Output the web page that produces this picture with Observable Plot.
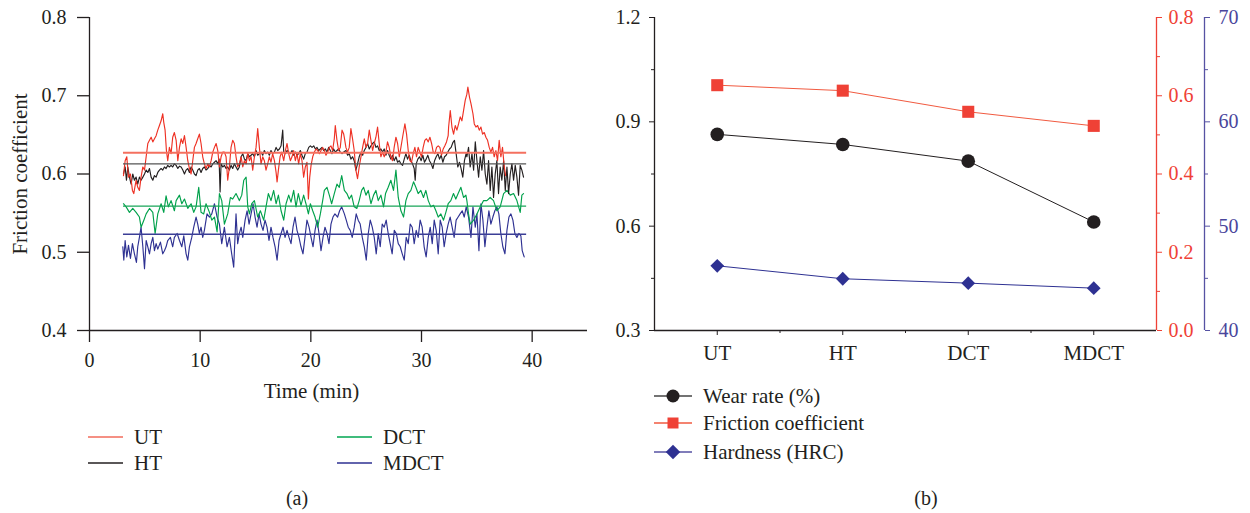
<!DOCTYPE html>
<html><head><meta charset="utf-8">
<script src="https://cdn.jsdelivr.net/npm/d3@7"></script>
<script src="https://cdn.jsdelivr.net/npm/@observablehq/plot@0.6"></script>
<style>
body{margin:0;background:#fff;width:1250px;height:513px;position:relative;overflow:hidden;font-family:"Liberation Serif",serif;color:#231f20}
.abs{position:absolute}
svg{overflow:visible}
</style></head><body>
<div id="a" class="abs" style="left:0;top:0"></div>
<div id="b" class="abs" style="left:600px;top:0"></div>
<svg id="leg" class="abs" style="left:0;top:0" width="1250" height="513"></svg>
<script>
// ---------- Panel (a): friction coefficient vs time ----------
const seriesNames = ["UT", "HT", "DCT", "MDCT"];
const xTicksA = [0, 10, 20, 30, 40];
const yTicksA = [0.4, 0.5, 0.6, 0.7, 0.8];
const meanSpan = [3.07, 39.5];
const frictionMean = [0.627, 0.613, 0.559, 0.523];

const UT = [[3.07,0.598],[3.22,0.617],[3.37,0.622],[3.52,0.596],[3.70,0.600],[3.88,0.579],[4.00,0.575],[4.21,0.592],[4.36,0.583],[4.51,0.579],[4.66,0.596],[4.82,0.609],[4.97,0.605],[5.12,0.622],[5.27,0.639],[5.42,0.643],[5.57,0.647],[5.72,0.641],[5.87,0.645],[6.02,0.649],[6.17,0.656],[6.32,0.662],[6.47,0.668],[6.62,0.677],[6.71,0.666],[6.83,0.656],[6.95,0.630],[7.07,0.617],[7.22,0.634],[7.37,0.626],[7.52,0.647],[7.67,0.653],[7.83,0.643],[7.98,0.617],[8.13,0.634],[8.28,0.645],[8.43,0.639],[8.58,0.649],[8.73,0.634],[8.88,0.617],[9.03,0.607],[9.18,0.600],[9.33,0.617],[9.48,0.634],[9.63,0.639],[9.78,0.645],[9.93,0.651],[10.08,0.639],[10.23,0.622],[10.38,0.613],[10.53,0.607],[10.69,0.613],[10.84,0.609],[10.99,0.617],[11.14,0.628],[11.29,0.634],[11.44,0.639],[11.59,0.630],[11.74,0.609],[11.89,0.622],[12.04,0.628],
[12.19,0.628],[12.34,0.622],[12.49,0.592],[12.64,0.609],[12.79,0.634],[12.94,0.643],[13.09,0.639],[13.24,0.622],[13.39,0.609],[13.54,0.613],[13.70,0.622],[13.85,0.609],[14.00,0.617],[14.15,0.613],[14.30,0.626],[14.45,0.617],[14.60,0.622],[14.75,0.605],[14.90,0.622],[15.05,0.634],[15.20,0.658],[15.35,0.634],[15.50,0.613],[15.65,0.622],[15.80,0.617],[15.95,0.605],[16.10,0.613],[16.25,0.622],[16.40,0.615],[16.55,0.626],[16.71,0.617],[16.86,0.602],[16.95,0.590],[17.07,0.605],[17.22,0.622],[17.37,0.628],[17.55,0.617],[17.70,0.630],[17.85,0.639],[18.00,0.626],[18.15,0.617],[18.30,0.622],[18.45,0.630],[18.60,0.617],[18.75,0.626],[18.90,0.613],[19.05,0.626],[19.20,0.617],[19.35,0.596],[19.50,0.609],[19.65,0.615],[19.78,0.568],[19.90,0.596],[20.02,0.611],[20.17,0.622],[20.32,0.628],[20.47,0.632],[20.62,0.630],[20.77,0.626],[20.92,0.630],[21.07,0.634],[21.22,0.630],[21.37,0.624],[21.52,0.628],[21.67,0.634],[21.82,0.636],[21.97,0.630],[22.12,0.645],[22.21,0.662],[22.36,0.643],[22.51,0.630],[22.66,0.634],[22.82,0.656],[22.97,0.651],
[23.02,0.647],[23.17,0.634],[23.32,0.628],[23.47,0.634],[23.62,0.658],[23.77,0.645],[23.92,0.630],[24.07,0.605],[24.22,0.594],[24.37,0.609],[24.53,0.622],[24.68,0.634],[24.83,0.645],[24.98,0.634],[25.13,0.639],[25.28,0.656],[25.43,0.643],[25.58,0.630],[25.73,0.639],[25.88,0.647],[26.03,0.660],[26.18,0.639],[26.33,0.622],[26.48,0.628],[26.63,0.622],[26.78,0.628],[26.93,0.641],[27.08,0.634],[27.23,0.622],[27.38,0.617],[27.53,0.634],[27.69,0.647],[27.84,0.639],[27.99,0.622],[28.14,0.634],[28.29,0.647],[28.50,0.664],[28.65,0.651],[28.80,0.630],[28.95,0.617],[29.10,0.615],[29.25,0.626],[29.40,0.634],[29.55,0.622],[29.70,0.634],[29.85,0.628],[30.00,0.622],[30.15,0.634],[30.30,0.643],[30.45,0.645],[30.61,0.641],[30.76,0.647],[30.91,0.639],[31.06,0.628],[31.21,0.626],[31.36,0.634],[31.51,0.636],[31.66,0.634],[31.81,0.624],[31.96,0.632],[32.11,0.636],[32.26,0.641],[32.41,0.649],
[32.45,0.660],[32.60,0.681],[32.75,0.660],[32.90,0.651],[33.05,0.662],[33.20,0.656],[33.35,0.664],[33.50,0.673],[33.65,0.668],[33.80,0.681],[33.95,0.694],[34.10,0.702],[34.19,0.711],[34.34,0.698],[34.47,0.690],[34.65,0.677],[34.77,0.664],[34.92,0.660],[35.07,0.662],[35.22,0.656],[35.37,0.660],[35.52,0.651],[35.67,0.653],[35.82,0.647],[35.97,0.643],[36.12,0.634],[36.27,0.628],[36.42,0.634],[36.57,0.622],[36.72,0.630],[36.87,0.617],[37.02,0.643],[37.17,0.622],[37.32,0.634],[37.48,0.609],[37.60,0.598]];

const HT = [[3.07,0.600],[3.22,0.609],[3.34,0.592],[3.46,0.609],[3.61,0.596],[3.76,0.587],[3.91,0.600],[4.06,0.592],[4.21,0.596],[4.36,0.587],[4.51,0.596],[4.66,0.592],[4.82,0.596],[4.97,0.600],[5.12,0.605],[5.27,0.602],[5.42,0.607],[5.57,0.596],[5.72,0.592],[5.87,0.598],[6.02,0.596],[6.17,0.602],[6.32,0.605],[6.47,0.607],[6.62,0.605],[6.77,0.609],[6.92,0.607],[7.07,0.611],[7.22,0.609],[7.37,0.611],[7.52,0.609],[7.67,0.613],[7.83,0.611],[7.98,0.607],[8.13,0.610],[8.28,0.609],[8.43,0.605],[8.58,0.600],[8.73,0.605],[8.88,0.607],[9.03,0.602],[9.18,0.609],[9.33,0.605],[9.48,0.600],[9.63,0.598],[9.78,0.605],[9.93,0.607],[10.08,0.602],[10.23,0.607],[10.38,0.609],[10.53,0.605],[10.69,0.607],[10.84,0.611],[10.99,0.609],[11.14,0.613],[11.29,0.615],[11.44,0.617],[11.59,0.613],[11.71,0.619],[11.80,0.577],[11.89,0.613],[12.04,0.609],
[12.19,0.611],[12.34,0.607],[12.49,0.609],[12.64,0.605],[12.79,0.611],[12.94,0.607],[13.09,0.613],[13.24,0.609],[13.39,0.605],[13.54,0.609],[13.70,0.622],[13.85,0.626],[14.00,0.619],[14.15,0.617],[14.30,0.626],[14.45,0.622],[14.60,0.624],[14.75,0.626],[14.90,0.622],[15.05,0.630],[15.20,0.624],[15.35,0.626],[15.50,0.628],[15.65,0.624],[15.80,0.630],[15.95,0.626],[16.10,0.628],[16.25,0.624],[16.40,0.630],[16.55,0.626],[16.71,0.628],[16.86,0.634],[17.01,0.630],[17.16,0.632],[17.31,0.636],[17.46,0.656],[17.55,0.628],[17.70,0.626],[17.85,0.630],[18.00,0.628],[18.15,0.626],[18.30,0.630],[18.45,0.624],[18.60,0.628],[18.75,0.624],[18.90,0.626],[19.05,0.630],[19.20,0.624],[19.35,0.619],[19.50,0.626],[19.65,0.628],[19.81,0.634],[19.96,0.636],[20.11,0.634],[20.26,0.636],[20.41,0.632],[20.56,0.634],[20.71,0.630],[20.86,0.632],[21.01,0.634],[21.16,0.630],[21.31,0.632],[21.46,0.628],[21.61,0.634],[21.76,0.630],[21.91,0.626],[22.06,0.632],[22.21,0.628],[22.36,0.630],[22.51,0.632],[22.66,0.628],[22.82,0.626],[22.97,0.628],
[23.17,0.630],[23.32,0.624],[23.47,0.626],[23.62,0.619],[23.77,0.622],[23.92,0.617],[24.07,0.605],[24.22,0.613],[24.37,0.622],[24.53,0.628],[24.68,0.624],[24.83,0.630],[24.98,0.634],[25.13,0.639],[25.28,0.632],[25.43,0.636],[25.58,0.639],[25.73,0.641],[25.88,0.634],[26.03,0.636],[26.18,0.630],[26.33,0.632],[26.48,0.628],[26.63,0.632],[26.78,0.624],[26.93,0.630],[27.08,0.624],[27.23,0.619],[27.38,0.624],[27.53,0.617],[27.69,0.622],[27.84,0.615],[27.99,0.617],[28.14,0.613],[28.29,0.611],[28.44,0.619],[28.59,0.626],[28.74,0.619],[28.89,0.624],[29.04,0.617],[29.19,0.613],[29.34,0.607],[29.43,0.592],[29.52,0.613],[29.67,0.619],[29.82,0.622],[29.97,0.617],[30.12,0.624],[30.27,0.615],[30.42,0.619],[30.57,0.624],[30.72,0.617],[30.88,0.613],[31.03,0.607],[31.18,0.617],[31.33,0.622],[31.48,0.626],[31.63,0.619],[31.78,0.624],[31.93,0.615],[32.08,0.622],[32.23,0.624],[32.38,0.628],[32.53,0.632],[32.68,0.634],[32.83,0.640],[32.98,0.643],[33.13,0.626],[33.28,0.609],[33.43,0.615],[33.58,0.607],[33.73,0.596],[33.88,0.617],[34.03,0.626],
[34.10,0.622],[34.25,0.634],[34.40,0.609],[34.56,0.626],[34.71,0.605],[34.86,0.641],[35.01,0.617],[35.16,0.596],[35.31,0.622],[35.46,0.605],[35.61,0.630],[35.76,0.600],[35.91,0.587],[36.06,0.617],[36.21,0.579],[36.36,0.609],[36.51,0.570],[36.66,0.600],[36.81,0.617],[36.96,0.575],[37.11,0.609],[37.26,0.592],[37.42,0.617],[37.57,0.579],[37.72,0.609],[37.87,0.575],[38.02,0.600],[38.17,0.613],[38.32,0.592],[38.47,0.611],[38.62,0.596],[38.77,0.573],[38.92,0.611],[39.07,0.605],[39.22,0.596]];

const DCT = [[3.07,0.562],[3.31,0.558],[3.61,0.551],[3.91,0.556],[4.21,0.551],[4.51,0.545],[4.66,0.532],[4.91,0.541],[5.12,0.549],[5.42,0.556],[5.72,0.551],[5.93,0.524],[6.17,0.549],[6.47,0.562],[6.71,0.551],[6.92,0.572],[7.13,0.558],[7.37,0.566],[7.67,0.553],[7.83,0.566],[8.13,0.573],[8.34,0.562],[8.58,0.568],[8.88,0.556],[9.18,0.562],[9.42,0.551],[9.63,0.558],[9.87,0.583],[10.08,0.551],[10.32,0.549],[10.53,0.562],[10.84,0.551],[11.05,0.541],[11.29,0.545],[11.53,0.526],[11.74,0.575],[11.95,0.566],
[12.19,0.536],[12.49,0.549],[12.73,0.570],[12.94,0.568],[13.24,0.575],[13.54,0.566],[13.76,0.573],[13.94,0.592],[14.15,0.596],[14.30,0.558],[14.45,0.549],[14.66,0.562],[14.90,0.566],[15.20,0.545],[15.44,0.553],[15.74,0.541],[15.95,0.558],[16.16,0.575],[16.40,0.566],[16.64,0.579],[16.86,0.562],[17.07,0.573],[17.31,0.553],[17.55,0.541],[17.76,0.562],[18.00,0.573],[18.21,0.564],[18.45,0.579],[18.66,0.558],[18.87,0.575],[19.11,0.560],[19.35,0.573],[19.56,0.562],[19.78,0.549],[19.96,0.562],[20.17,0.553],[20.38,0.545],[20.62,0.532],[20.86,0.549],[21.07,0.566],[21.22,0.579],[21.46,0.583],[21.67,0.573],[21.88,0.562],[22.12,0.575],[22.36,0.587],[22.57,0.583],[22.79,0.598],[23.03,0.579],
[23.26,0.575],[23.47,0.568],[23.68,0.573],[23.92,0.558],[24.16,0.556],[24.37,0.566],[24.59,0.579],[24.77,0.583],[24.98,0.573],[25.19,0.579],[25.43,0.562],[25.67,0.573],[25.88,0.579],[26.09,0.566],[26.33,0.573],[26.57,0.558],[26.75,0.575],[26.99,0.583],[27.23,0.592],[27.47,0.579],[27.69,0.605],[27.90,0.570],[28.14,0.553],[28.38,0.545],[28.59,0.566],[28.80,0.575],[29.04,0.579],[29.28,0.590],[29.49,0.583],[29.70,0.575],[29.94,0.579],[30.18,0.570],[30.39,0.579],[30.61,0.566],[30.85,0.558],[31.09,0.560],[31.30,0.553],[31.51,0.545],[31.75,0.549],[31.99,0.541],[32.20,0.551],[32.41,0.562],[32.65,0.566],[32.89,0.575],[33.10,0.568],[33.31,0.575],[33.56,0.583],[33.80,0.570],[34.01,0.573],
[34.10,0.566],[34.25,0.549],[34.40,0.536],[34.71,0.541],[35.01,0.549],[35.31,0.558],[35.61,0.566],[35.91,0.566],[36.21,0.570],[36.51,0.566],[36.81,0.553],[37.11,0.558],[37.42,0.575],[37.72,0.579],[38.02,0.573],[38.32,0.575],[38.62,0.566],[38.92,0.551],[39.07,0.573],[39.22,0.575]];

const MDCT = [[3.01,0.507],[3.10,0.490],[3.22,0.515],[3.37,0.494],[3.52,0.509],[3.70,0.492],[3.88,0.511],[4.06,0.498],[4.24,0.487],[4.36,0.507],[4.51,0.519],[4.66,0.532],[4.82,0.507],[4.97,0.479],[5.12,0.515],[5.27,0.507],[5.42,0.498],[5.57,0.511],[5.72,0.519],[5.87,0.502],[6.02,0.511],[6.17,0.504],[6.41,0.513],[6.62,0.498],[6.77,0.502],[6.92,0.507],[7.07,0.515],[7.31,0.519],[7.52,0.507],[7.67,0.519],[7.92,0.524],[8.13,0.515],[8.34,0.507],[8.52,0.521],[8.73,0.498],[8.88,0.490],[9.03,0.507],[9.24,0.519],[9.42,0.532],[9.63,0.545],[9.78,0.536],[9.93,0.524],[10.08,0.532],[10.23,0.519],[10.38,0.528],[10.62,0.549],[10.84,0.545],[11.05,0.549],[11.29,0.562],[11.53,0.545],[11.74,0.536],[11.95,0.511],
[12.19,0.532],[12.43,0.507],[12.64,0.519],[12.85,0.498],[13.03,0.481],[13.24,0.549],[13.39,0.511],[13.54,0.524],[13.70,0.532],[13.85,0.519],[14.06,0.541],[14.24,0.553],[14.42,0.536],[14.60,0.549],[14.78,0.562],[14.96,0.545],[15.14,0.532],[15.32,0.549],[15.50,0.536],[15.68,0.528],[15.86,0.541],[16.04,0.532],[16.22,0.515],[16.40,0.532],[16.58,0.519],[16.77,0.507],[16.95,0.490],[17.13,0.515],[17.31,0.524],[17.49,0.532],[17.67,0.519],[17.85,0.528],[18.03,0.519],[18.21,0.511],[18.39,0.532],[18.57,0.545],[18.75,0.528],[18.93,0.519],[19.11,0.507],[19.29,0.498],[19.47,0.519],[19.65,0.541],[19.84,0.532],[20.02,0.519],[20.20,0.507],[20.38,0.528],[20.56,0.541],[20.74,0.524],[20.92,0.502],[21.10,0.519],[21.28,0.532],[21.46,0.524],[21.64,0.511],[21.82,0.536],[22.00,0.545],[22.18,0.549],[22.42,0.545],[22.60,0.553],[22.79,0.558],[23.03,0.549],
[23.20,0.541],[23.38,0.532],[23.56,0.528],[23.74,0.519],[23.92,0.532],[24.10,0.549],[24.28,0.541],[24.46,0.536],[24.65,0.519],[24.83,0.507],[25.01,0.490],[25.19,0.524],[25.37,0.541],[25.55,0.532],[25.73,0.519],[25.91,0.498],[26.09,0.524],[26.27,0.507],[26.45,0.536],[26.63,0.532],[26.81,0.541],[26.99,0.524],[27.17,0.511],[27.35,0.498],[27.54,0.528],[27.72,0.524],[27.90,0.511],[28.08,0.507],[28.26,0.498],[28.44,0.490],[28.62,0.519],[28.80,0.511],[28.98,0.536],[29.16,0.532],[29.34,0.511],[29.52,0.528],[29.70,0.519],[29.88,0.541],[30.06,0.532],[30.24,0.507],[30.42,0.494],[30.61,0.519],[30.79,0.532],[30.97,0.511],[31.15,0.541],[31.33,0.528],[31.51,0.498],[31.69,0.541],[31.87,0.532],[32.05,0.507],[32.23,0.524],[32.41,0.536],[32.59,0.545],[32.77,0.532],[32.95,0.519],[33.13,0.541],[33.31,0.545],[33.49,0.549],[33.68,0.553],[33.86,0.545],[34.04,0.558],
[34.25,0.545],[34.47,0.519],[34.65,0.558],[34.86,0.532],[35.01,0.549],[35.19,0.502],[35.37,0.562],[35.55,0.541],[35.73,0.507],[35.91,0.532],[36.09,0.553],[36.27,0.536],[36.45,0.545],[36.63,0.553],[36.81,0.558],[36.99,0.549],[37.17,0.524],[37.35,0.507],[37.54,0.498],[37.72,0.528],[37.90,0.545],[38.08,0.549],[38.26,0.541],[38.44,0.524],[38.62,0.519],[38.80,0.524],[38.98,0.521],[39.10,0.502],[39.28,0.494]];

// ---------- Panel (b): properties per treatment ----------
const categories = ["UT", "HT", "DCT", "MDCT"];
const wearRate = [0.864, 0.835, 0.787, 0.612];
const hardness = [46.2, 44.96, 44.54, 44.06];
const leftTicksB = [0.3, 0.6, 0.9, 1.2];
const leftMinorB = [0.45, 0.75, 1.05];
const redTicksB = [0.0, 0.2, 0.4, 0.6, 0.8];
const redMinorB = [0.1, 0.3, 0.5, 0.7];
const blueTicksB = [40, 50, 60, 70];
const blueMinorB = [45, 55, 65];

const FONT = '"Liberation Serif", "Times New Roman", serif';
const INK = "#231f20";
const lineColors = {UT: "#ee3124", HT: "#231f20", DCT: "#00a14b", MDCT: "#2e3192"};
const meanColors = {UT: "#f4705f", HT: "#555555", DCT: "#18a558", MDCT: "#3b3e96"};
const data = {UT, HT, DCT, MDCT};

const meanRows = seriesNames.map((name, i) => ({name, v: frictionMean[i]}));

const drawOrder = ["MDCT", "DCT", "HT", "UT"];
const plotA = Plot.plot({
  width: 600, height: 375,
  marginLeft: 89, marginRight: 13, marginTop: 17, marginBottom: 45,
  x: {domain: [0, 45]},
  y: {domain: [0.4, 0.8]},
  style: {fontFamily: FONT, fontSize: "20px", color: INK, background: "transparent", overflow: "visible"},
  marks: [
    ...drawOrder.map(name => Plot.line(data[name].map(([t, v]) => ({t, v})), {x: "t", y: "v", stroke: lineColors[name], strokeWidth: 1.15})),
    ...drawOrder.map(name => Plot.ruleY(meanRows.filter(d => d.name === name), {y: "v", x1: meanSpan[0], x2: meanSpan[1], stroke: meanColors[name], strokeWidth: name === "UT" ? 2 : 1.4})),
    Plot.ruleY([0.4], {stroke: INK, strokeWidth: 1.3}),
    Plot.ruleX([0], {stroke: INK, strokeWidth: 1.3}),
    Plot.axisX(xTicksA, {tickSize: 12, tickPadding: 10, tickFormat: d => String(d), label: null, strokeWidth: 1.3}),
    Plot.axisY(yTicksA, {tickSize: 12, tickPadding: 11, tickFormat: d => d.toFixed(1), label: null, strokeWidth: 1.3}),
    Plot.text(["Time (min)"], {frameAnchor: "bottom", textAnchor: "middle", lineAnchor: "middle", dx: -27, dy: 61, fontSize: 21, fill: INK}),
    Plot.text(["Friction coefficient"], {frameAnchor: "left", textAnchor: "middle", lineAnchor: "middle", rotate: -90, dx: -69, fontSize: 21, fill: INK})
  ]
});
document.getElementById("a").append(plotA);

// Panel (b)
const toLeftF = f => 0.3 + f * (0.9 / 0.8);
const toLeftH = h => 0.3 + (h - 40) * (0.9 / 30);
const RED = "#ef4136", REDLINE = "#f15a40", BLUE = "#2e3192", BLUEAX = "#5652a3";
const rowsB = categories.map((c, i) => ({c, i: i + 1, wear: wearRate[i], fr: toLeftF(frictionMean[i]), hd: toLeftH(hardness[i])}));

const plotB = Plot.plot({
  width: 650, height: 375,
  marginLeft: 54, marginRight: 94, marginTop: 17, marginBottom: 45,
  x: {domain: [0.5, 4.5]},
  y: {domain: [0.3, 1.2]},
  style: {fontFamily: FONT, fontSize: "20px", color: INK, background: "transparent", overflow: "visible"},
  marks: [
    Plot.ruleY([0.3], {stroke: INK, strokeWidth: 1.3}),
    Plot.ruleX([0.5], {stroke: INK, strokeWidth: 1.3}),
    Plot.ruleX([4.5], {stroke: RED, strokeWidth: 1.3}),
    Plot.ruleX([4.5], {dx: 48, stroke: BLUEAX, strokeWidth: 1.3}),
    Plot.axisX([1, 2, 3, 4], {tickSize: 5, tickPadding: 10, tickFormat: d => categories[d - 1], fontSize: 21, label: null}),
    Plot.axisX([1.5, 2.5, 3.5], {tickSize: 3, tickFormat: () => "", label: null}),
    Plot.axisY(leftTicksB, {tickSize: 5, tickPadding: 9, tickFormat: d => d.toFixed(1), label: null}),
    Plot.axisY(leftMinorB, {tickSize: 3, tickFormat: () => "", label: null}),
    Plot.axisY(redTicksB.map(toLeftF), {anchor: "right", tickSize: 5, tickPadding: 7, tickFormat: (d, i) => redTicksB[i].toFixed(1), stroke: RED, fill: RED, color: RED, label: null}),
    Plot.axisY(redMinorB.map(toLeftF), {anchor: "right", tickSize: 3, tickFormat: () => "", stroke: RED, label: null}),
    Plot.axisY(blueTicksB.map(toLeftH), {anchor: "right", dx: 48, tickSize: 5, tickPadding: 9, tickFormat: (d, i) => String(blueTicksB[i]), stroke: BLUEAX, fill: "#4a469c", color: BLUEAX, label: null}),
    Plot.axisY(blueMinorB.map(toLeftH), {anchor: "right", dx: 48, tickSize: 3, tickFormat: () => "", stroke: BLUEAX, label: null}),
    Plot.line(rowsB, {x: "i", y: "wear", stroke: INK, strokeWidth: 1}),
    Plot.line(rowsB, {x: "i", y: "fr", stroke: REDLINE, strokeWidth: 1}),
    Plot.line(rowsB, {x: "i", y: "hd", stroke: BLUE, strokeWidth: 1}),
    Plot.dot(rowsB, {x: "i", y: "wear", r: 6.8, fill: INK, symbol: "circle"}),
    Plot.dot(rowsB, {x: "i", y: "fr", r: 6.8, fill: RED, symbol: "square"}),
    Plot.dot(rowsB, {x: "i", y: "hd", r: 6.2, fill: BLUE, symbol: "diamond2"})
  ]
});
document.getElementById("b").append(plotB);

// ---------- Legends and captions ----------
const leg = d3.select("#leg").style("font-family", FONT).style("fill", INK);
const legA = [
  {name: "UT", color: "#f26b5b", x: 88, y: 437},
  {name: "HT", color: INK, x: 88, y: 463},
  {name: "DCT", color: "#00a651", x: 337, y: 437},
  {name: "MDCT", color: "#2e3192", x: 337, y: 463}
];
for (const d of legA) {
  leg.append("line").attr("x1", d.x).attr("x2", d.x + 35).attr("y1", d.y).attr("y2", d.y).attr("stroke", d.color).attr("stroke-width", 1.4);
  leg.append("text").attr("x", d.x + 46).attr("y", d.y + 7).attr("font-size", 21).text(d.name);
}
leg.append("text").attr("x", 297).attr("y", 505).attr("font-size", 20).attr("text-anchor", "middle").text("(a)");

const legB = [
  {name: "Wear rate (%)", color: INK, line: "#444", sym: d3.symbolCircle, r: 6.5, y: 396},
  {name: "Friction coefficient", color: RED, line: REDLINE, sym: d3.symbolSquare, r: 6.2, y: 423},
  {name: "Hardness (HRC)", color: BLUE, line: "#5652a3", sym: d3.symbolDiamond2, r: 6.5, y: 452}
];
for (const d of legB) {
  leg.append("line").attr("x1", 654).attr("x2", 692).attr("y1", d.y).attr("y2", d.y).attr("stroke", d.line).attr("stroke-width", 1.3);
  leg.append("path").attr("transform", `translate(673,${d.y})`).attr("d", d3.symbol(d.sym, d.r * d.r * Math.PI)()).attr("fill", d.color);
  leg.append("text").attr("x", 703).attr("y", d.y + 7).attr("font-size", 21).text(d.name);
}
leg.append("text").attr("x", 926).attr("y", 505).attr("font-size", 20).attr("text-anchor", "middle").text("(b)");
</script>
</body></html>
